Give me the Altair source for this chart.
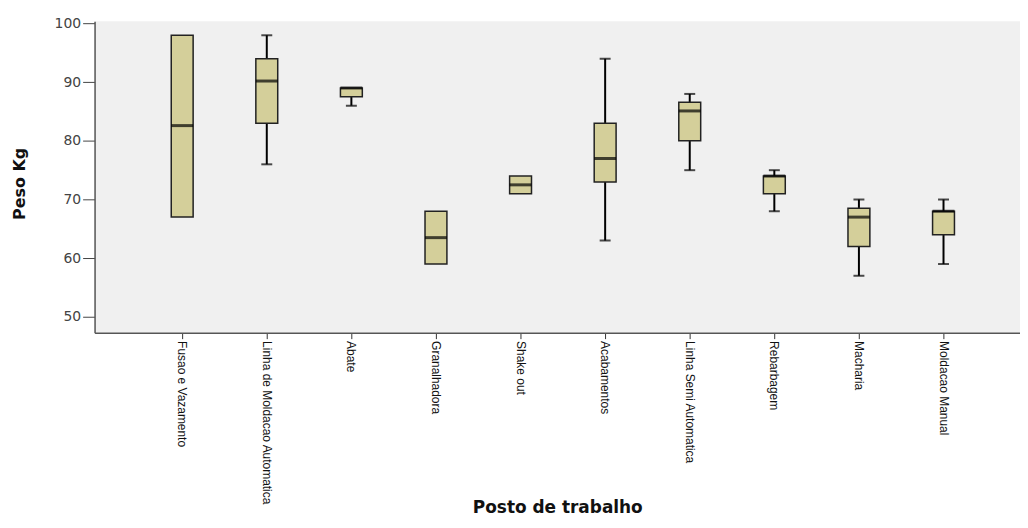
import altair as alt
import pandas as pd

categories = ["Fusao e Vazamento", "Linha de Moldacao Automatica", "Abate", "Granalhadora",
              "Shake out", "Acabamentos", "Linha Semi Automatica", "Rebarbagem",
              "Macharia", "Moldacao Manual"]
q_min = [67.0, 76.0, 86.0, 59.0, 71.0, 63.0, 75.0, 68.0, 57.0, 59.0]
q1 = [67.0, 83.0, 87.5, 59.0, 71.0, 73.0, 80.0, 71.0, 62.0, 64.0]
median = [82.6, 90.2, 89.0, 63.5, 72.5, 77.0, 85.1, 74.0, 67.0, 68.0]
q3 = [98.0, 94.0, 89.0, 68.0, 74.0, 83.0, 86.6, 74.0, 68.5, 68.0]
q_max = [98.0, 98.0, 89.0, 68.0, 74.0, 94.0, 88.0, 75.0, 70.0, 70.0]

df = pd.DataFrame({"posto": categories, "q_min": q_min, "q1": q1,
                   "median": median, "q3": q3, "q_max": q_max})

ydom = [47.3, 100.4]
x_enc = alt.X("posto:N", sort=categories, title="Posto de trabalho",
              scale=alt.Scale(paddingInner=0, paddingOuter=0.47, align=0.57),
              axis=alt.Axis(labelAngle=90, labelAlign="left", labelBaseline="middle",
                            labelFont="Liberation Sans", labelFontSize=12, labelColor="#111",
                            labelLimit=300, labelPadding=2, tickSize=6, tickColor="#333",
                            domainColor="#555", domainWidth=1.5,
                            titleFont="DejaVu Sans", titleFontSize=17, titleFontWeight="bold",
                            titleColor="#111", titleY=181, titleBaseline="alphabetic"))
y_scale = alt.Scale(domain=ydom, nice=False, zero=False)
y_axis = alt.Axis(values=[50, 60, 70, 80, 90, 100], grid=False, tickSize=12,
                  tickColor="#444", labelColor="#444", labelFont="DejaVu Sans",
                  labelFontSize=14, labelPadding=2, domainColor="#555", domainWidth=1.5,
                  title="Peso Kg", titleFont="DejaVu Sans", titleFontSize=16,
                  titleFontWeight="bold", titleColor="#111", titleAngle=-90,
                  titleX=-75, titleY=163, titleAlign="center", titleBaseline="middle")

base = alt.Chart(df)

low_whisker = base.transform_filter("datum.q_min < datum.q1").mark_rule(
    color="black", strokeWidth=2).encode(
    x=x_enc, y=alt.Y("q_min:Q", scale=y_scale, axis=y_axis), y2="q1:Q")
high_whisker = base.transform_filter("datum.q_max > datum.q3").mark_rule(
    color="black", strokeWidth=2).encode(
    x=x_enc, y=alt.Y("q3:Q", scale=y_scale, axis=y_axis), y2="q_max:Q")
box = base.mark_bar(size=22, color="#D4CF9A", stroke="#222", strokeWidth=1.5).encode(
    x=x_enc, y=alt.Y("q1:Q", scale=y_scale, axis=y_axis), y2="q3:Q")
med = base.mark_tick(size=22, thickness=3, color="black").encode(
    x=x_enc, y=alt.Y("median:Q", scale=y_scale, axis=y_axis))
cap_low = base.transform_filter("datum.q_min < datum.q1").mark_tick(
    size=11, thickness=2, color="black").encode(
    x=x_enc, y=alt.Y("q_min:Q", scale=y_scale, axis=y_axis))
cap_high = base.transform_filter("datum.q_max > datum.q3").mark_tick(
    size=11, thickness=2, color="black").encode(
    x=x_enc, y=alt.Y("q_max:Q", scale=y_scale, axis=y_axis))

chart = alt.layer(low_whisker, high_whisker, box, med, cap_low, cap_high).properties(
    width=930, height=313,
    autosize=alt.AutoSizeParams(type="none"),
    padding={"left": 87, "top": 12, "right": 0, "bottom": 187},
    background="white",
).configure_view(fill="#F0F0F0", stroke=None)

chart.save("out.html", embed_options={"renderer": "svg", "actions": False})
